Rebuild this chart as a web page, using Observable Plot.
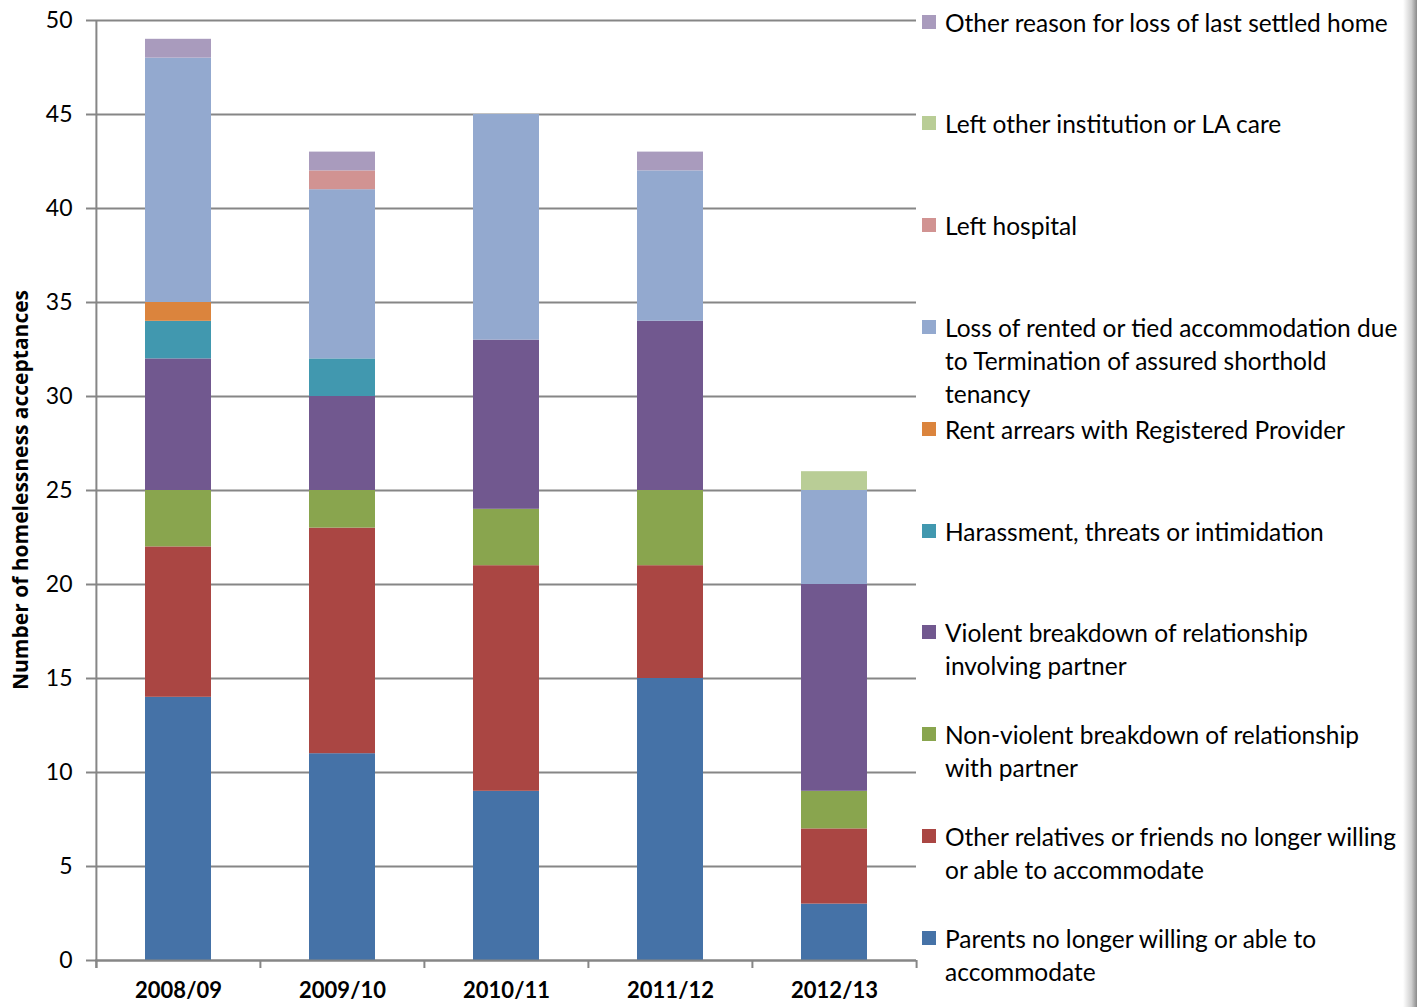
<!DOCTYPE html>
<html><head><meta charset="utf-8">
<script src="https://cdn.jsdelivr.net/npm/d3@7"></script>
<script src="https://cdn.jsdelivr.net/npm/@observablehq/plot@0.6"></script>
<style>
body{margin:0;background:#fff;}
#wrap{position:relative;width:1422px;height:1007px;overflow:hidden;font-family:Lato,"Open Sans",sans-serif;background:#fff;}
#chart{position:absolute;left:0;top:0;}
#ylabel{position:absolute;left:20px;top:490px;transform:translate(-50%,-50%) rotate(-90deg);white-space:nowrap;font-family:"Open Sans",sans-serif;font-weight:bold;font-size:21px;color:#000;}
#legend{position:absolute;left:922px;top:0;}
.item{position:absolute;left:0;white-space:nowrap;font-size:24.5px;line-height:33px;color:#000;padding-left:23px;}
.sw{position:absolute;left:0;top:9px;width:14px;height:14px;}
#shadow{position:absolute;left:1403px;top:0;width:14px;height:1007px;background:linear-gradient(to right,rgba(255,255,255,0),#cfcfcf 60%,#8a8a8a);}
</style></head><body>
<div id="wrap"><div id="chart"></div><div id="ylabel">Number of homelessness acceptances</div><div id="legend"></div><div id="shadow"></div></div>
<script>
const categories = ["2008/09","2009/10","2010/11","2011/12","2012/13"];
// series, bottom to top of each stack
const seriesNames = [
  "Parents no longer willing or able to accommodate",
  "Other relatives or friends no longer willing or able to accommodate",
  "Non-violent breakdown of relationship with partner",
  "Violent breakdown of relationship involving partner",
  "Harassment, threats or intimidation",
  "Rent arrears with Registered Provider",
  "Loss of rented or tied accommodation due to Termination of assured shorthold tenancy",
  "Left hospital",
  "Left other institution or LA care",
  "Other reason for loss of last settled home"
];
const legendLines = [
  ["Parents no longer willing or able to","accommodate"],
  ["Other relatives or friends no longer willing","or able to accommodate"],
  ["Non-violent breakdown of relationship","with partner"],
  ["Violent breakdown of relationship","involving partner"],
  ["Harassment, threats or intimidation"],
  ["Rent arrears with Registered Provider"],
  ["Loss of rented or tied accommodation due","to Termination of assured shorthold","tenancy"],
  ["Left hospital"],
  ["Left other institution or LA care"],
  ["Other reason for loss of last settled home"]
];
const seriesColors = ["#4572A7","#AA4643","#89A54E","#71588F","#4198AF","#DB843D","#93A9CF","#D19392","#B9CD96","#A99BBD"];
const parents          = [14, 11,  9, 15,  3];
const otherRelatives   = [ 8, 12, 12,  6,  4];
const nonViolent       = [ 3,  2,  3,  4,  2];
const violent          = [ 7,  5,  9,  9, 11];
const harassment       = [ 2,  2,  0,  0,  0];
const rentArrears      = [ 1,  0,  0,  0,  0];
const lossRented       = [13,  9, 12,  8,  5];
const leftHospital     = [ 0,  1,  0,  0,  0];
const leftInstitution  = [ 0,  0,  0,  0,  1];
const otherReason      = [ 1,  1,  0,  1,  0];
const yTicks = [0,5,10,15,20,25,30,35,40,45,50];

const seriesValues = [parents, otherRelatives, nonViolent, violent, harassment, rentArrears, lossRented, leftHospital, leftInstitution, otherReason];
const data = [];
seriesNames.forEach((name, si) => categories.forEach((c, ci) => data.push({category: c, series: name, value: seriesValues[si][ci]})));

const W = 920, H = 1007, ml = 95, mr = 4, mt = 20, mb = 47;
const step = (W - ml - mr) / categories.length;
const grey = "#868686";

const chart = Plot.plot({
  width: W, height: H, marginLeft: ml, marginRight: mr, marginTop: mt, marginBottom: mb,
  style: {fontFamily: "Lato, 'Open Sans', sans-serif", fontSize: "23px", color: "#000", background: "#fff"},
  x: {domain: categories, paddingInner: 0.6, paddingOuter: 0.3, label: null},
  y: {domain: [0, 50], label: null},
  color: {domain: seriesNames, range: seriesColors},
  marks: [
    Plot.gridY(yTicks, {stroke: grey, strokeOpacity: 1, strokeWidth: 2}),
    Plot.axisY(yTicks, {tickSize: 9, tickPadding: 14, stroke: grey, strokeWidth: 2, label: null, fontSize: 23, fill: "#000"}),
    Plot.barY(data, {x: "category", y: "value", fill: "series", order: seriesNames}),
    Plot.ruleY([0], {stroke: grey, strokeWidth: 2}),
    Plot.ruleX([categories[0]], {dx: -step / 2, stroke: grey, strokeWidth: 2, insetBottom: -8}),
    Plot.ruleX(categories, {dx: -step / 2, stroke: grey, strokeWidth: 2, insetTop: H - mt - mb, insetBottom: -8}),
    Plot.ruleX([categories[categories.length - 1]], {dx: step / 2, stroke: grey, strokeWidth: 2, insetTop: H - mt - mb, insetBottom: -8}),
    Plot.axisX({tickSize: 0, tickPadding: 22, fontWeight: "bold", fontSize: 22, label: null, fill: "#000"})
  ]
});
document.getElementById("chart").appendChild(chart);

// legend: top to bottom = reverse of stacking order
const legend = document.getElementById("legend");
const order = seriesNames.map((_, i) => i).reverse();
order.forEach((si, k) => {
  const cy = 22 + k * 101.8;
  const div = document.createElement("div");
  div.className = "item";
  div.style.top = (cy - 16.5) + "px";
  const sw = document.createElement("div");
  sw.className = "sw";
  sw.style.background = seriesColors[si];
  div.appendChild(sw);
  legendLines[si].forEach((line, li) => {
    if (li) div.appendChild(document.createElement("br"));
    div.appendChild(document.createTextNode(line));
  });
  legend.appendChild(div);
});
</script>
</body></html>
